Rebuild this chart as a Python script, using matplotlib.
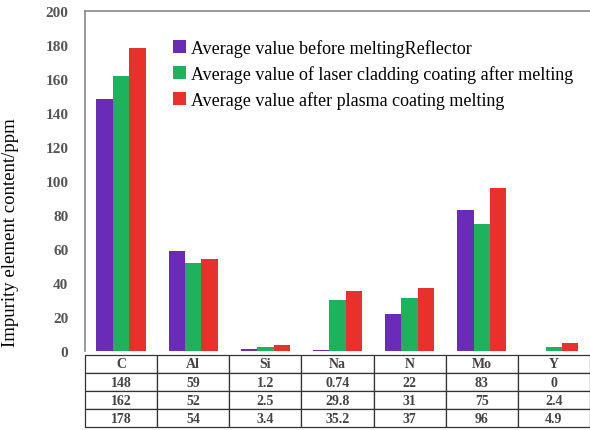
import numpy as np
import matplotlib
matplotlib.use("Agg")
import matplotlib.pyplot as plt

plt.rcParams['font.family'] = ['Liberation Serif', 'DejaVu Serif']

elements = ["C", "Al", "Si", "Na", "N", "Mo", "Y"]
before = [148, 59, 1.2, 0.74, 22, 83, 0]
laser = [162, 52, 2.5, 29.8, 31, 75, 2.4]
plasma = [178, 54, 3.4, 35.2, 37, 96, 4.9]
before_txt = ["148", "59", "1.2", "0.74", "22", "83", "0"]
laser_txt = ["162", "52", "2.5", "29.8", "31", "75", "2.4"]
plasma_txt = ["178", "54", "3.4", "35.2", "37", "96", "4.9"]
labels = ["Average value before meltingReflector",
          "Average value of laser cladding coating after melting",
          "Average value after plasma coating melting"]
colors = ["#6a2bb5", "#1db35c", "#e8312b"]

fig = plt.figure(figsize=(5.9, 4.31), dpi=100)
ax = fig.add_axes([0.144, 0.183, 0.856, 0.789])

x = np.arange(len(elements))
w = 0.227
for i, (vals, c, lab) in enumerate(zip([before, laser, plasma], colors, labels)):
    ax.bar(x + (i - 1) * w, vals, width=w, color=c, label=lab)

ax.set_xlim(-0.5, len(elements) - 0.5)
ax.set_ylim(0, 200)
ax.set_yticks(np.arange(0, 201, 20))
ax.tick_params(axis='y', length=0, pad=12, labelsize=11, labelcolor="#555555")
for t in ax.get_yticklabels():
    t.set_fontweight("bold")
ax.set_xticks([])
for s in ax.spines.values():
    s.set_color("#888888")
    s.set_linewidth(1.2)
ax.spines['right'].set_visible(False)
ax.spines['bottom'].set_visible(False)
ax.set_ylabel("Impurity element content/ppm", fontsize=13.5)
ax.yaxis.set_label_coords(-0.13, 0.35)

leg = ax.legend(loc="upper right", bbox_to_anchor=(1.0, 0.965), frameon=False,
                fontsize=13, handlelength=0.7, handleheight=0.7,
                handletextpad=0.3, labelspacing=0.45)

tbl = ax.table(cellText=[elements, before_txt, laser_txt, plasma_txt],
               cellLoc="center", bbox=[0, -0.224, 1, 0.213])
tbl.auto_set_font_size(False)
tbl.set_fontsize(10)
for cell in tbl.get_celld().values():
    cell.set_edgecolor("#333333")
    cell.set_linewidth(0.9)
    cell.get_text().set_color("#444444")
    cell.get_text().set_fontweight("bold")

fig.savefig("out.png", dpi=100)
